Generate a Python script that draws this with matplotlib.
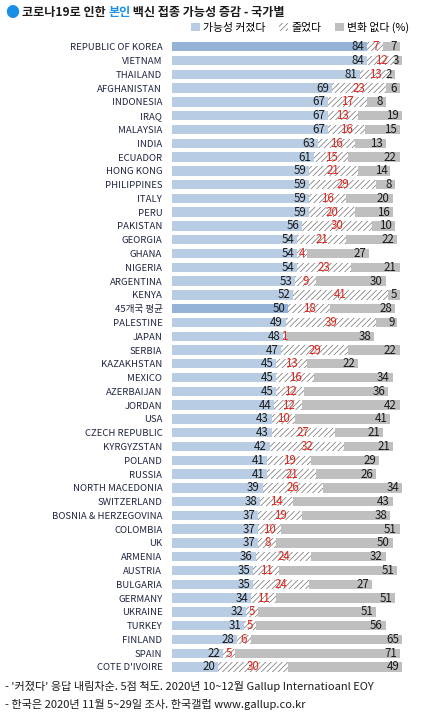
import matplotlib
matplotlib.use("Agg")
import matplotlib.pyplot as plt
from matplotlib.patches import Patch

plt.rcParams['font.family'] = ['Noto Sans CJK KR', 'DejaVu Sans']
plt.rcParams['hatch.linewidth'] = 0.5

# Data (%)
countries = [
    "REPUBLIC OF KOREA", "VIETNAM", "THAILAND", "AFGHANISTAN", "INDONESIA",
    "IRAQ", "MALAYSIA", "INDIA", "ECUADOR", "HONG KONG", "PHILIPPINES",
    "ITALY", "PERU", "PAKISTAN", "GEORGIA", "GHANA", "NIGERIA", "ARGENTINA",
    "KENYA", "45개국 평균", "PALESTINE", "JAPAN", "SERBIA", "KAZAKHSTAN",
    "MEXICO", "AZERBAIJAN", "JORDAN", "USA", "CZECH REPUBLIC", "KYRGYZSTAN",
    "POLAND", "RUSSIA", "NORTH MACEDONIA", "SWITZERLAND",
    "BOSNIA & HERZEGOVINA", "COLOMBIA", "UK", "ARMENIA", "AUSTRIA",
    "BULGARIA", "GERMANY", "UKRAINE", "TURKEY", "FINLAND", "SPAIN",
    "COTE D'IVOIRE",
]
increased = [84, 84, 81, 69, 67, 67, 67, 63, 61, 59, 59, 59, 59, 56, 54, 54,
             54, 53, 52, 50, 49, 48, 47, 45, 45, 45, 44, 43, 43, 42, 41, 41,
             39, 38, 37, 37, 37, 36, 35, 35, 34, 32, 31, 28, 22, 20]
decreased = [7, 12, 13, 23, 17, 13, 16, 16, 15, 21, 29, 16, 20, 30, 21, 4,
             23, 9, 41, 18, 39, 1, 29, 13, 16, 12, 12, 10, 27, 32, 19, 21,
             26, 14, 19, 10, 8, 24, 11, 24, 11, 5, 5, 6, 5, 30]
no_change = [7, 3, 2, 6, 8, 19, 15, 13, 22, 14, 8, 20, 16, 10, 22, 27, 21, 30,
             5, 28, 9, 38, 22, 22, 34, 36, 42, 41, 21, 21, 29, 26, 34, 43, 38,
             51, 50, 32, 51, 27, 51, 51, 56, 65, 71, 49]
highlight = ["REPUBLIC OF KOREA", "45개국 평균"]

blue = '#b8cce4'
blue_dark = '#95b3d7'
gray = '#bfbfbf'
red = '#e0261e'
dark = '#1a1a1a'
hatch_color = '#707070'

fig = plt.figure(figsize=(4.3, 7.15), dpi=100)
ax = fig.add_axes([0.4, 0.0575, 0.54, 0.8867])

y = list(range(len(countries)))
blue_colors = [blue_dark if c in highlight else blue for c in countries]
left2 = [a for a in increased]
left3 = [a + b for a, b in zip(increased, decreased)]

ax.barh(y, increased, height=0.68, color=blue_colors, linewidth=0)
ax.barh(y, decreased, left=left2, height=0.68, color='white',
        edgecolor=hatch_color, linewidth=0, hatch='//////')
ax.barh(y, no_change, left=left3, height=0.68, color=gray, linewidth=0)

for i in y:
    ax.text(increased[i] - 1.2, i, str(increased[i]), ha='right', va='center',
            fontsize=8.3, color=dark)
    ax.text(left2[i] + decreased[i] / 2, i, str(decreased[i]), ha='center',
            va='center', fontsize=8.3, color=red)
    ax.text(left3[i] + no_change[i] - 1.2, i, str(no_change[i]), ha='right',
            va='center', fontsize=8.3, color=dark)

ax.set_xlim(0, 100)
ax.set_ylim(len(countries) - 0.5, -0.5)
ax.set_yticks(y)
ax.set_yticklabels(countries, fontsize=6.9, color='#1f2540')
ax.tick_params(axis='y', length=0, pad=7)
ax.set_xticks([])
for s in ax.spines.values():
    s.set_visible(False)

# Title (with the word "본인" in blue)
fig.text(0.012, 0.982, "●", fontsize=10, color='#1a8fe8', va='center')
t1 = fig.text(0.05, 0.982, "코로나19로 인한 ", fontsize=8.7, fontweight='bold',
              va='center', color='#1a1a1a')
fig.canvas.draw()
x2 = t1.get_window_extent().x1 / fig.bbox.width
t2 = fig.text(x2, 0.982, "본인", fontsize=8.7, fontweight='bold',
              va='center', color='#1a8fe8')
fig.canvas.draw()
x3 = t2.get_window_extent().x1 / fig.bbox.width
fig.text(x3, 0.982, " 백신 접종 가능성 증감 - 국가별", fontsize=8.7,
         fontweight='bold', va='center', color='#1a1a1a')

# Legend
handles = [
    Patch(facecolor=blue, linewidth=0, label="가능성 커졌다"),
    Patch(facecolor='white', edgecolor=hatch_color, linewidth=0,
          hatch='//////', label="줄었다"),
    Patch(facecolor=gray, linewidth=0, label="변화 없다 (%)"),
]
fig.legend(handles=handles, loc='center right',
           bbox_to_anchor=(0.962, 0.962), ncol=3, frameon=False, fontsize=7.8,
           handlelength=0.8, handleheight=0.8, handletextpad=0.3,
           columnspacing=1.3, borderaxespad=0)

fig.text(0.012, 0.04, "- '커졌다' 응답 내림차순. 5점 척도. 2020년 10~12월 Gallup Internatioanl EOY",
         fontsize=8, va='center', color=dark)
fig.text(0.012, 0.015, "- 한국은 2020년 11월 5~29일 조사. 한국갤럽 www.gallup.co.kr",
         fontsize=8, va='center', color=dark)

fig.savefig("out.png", dpi=100)
